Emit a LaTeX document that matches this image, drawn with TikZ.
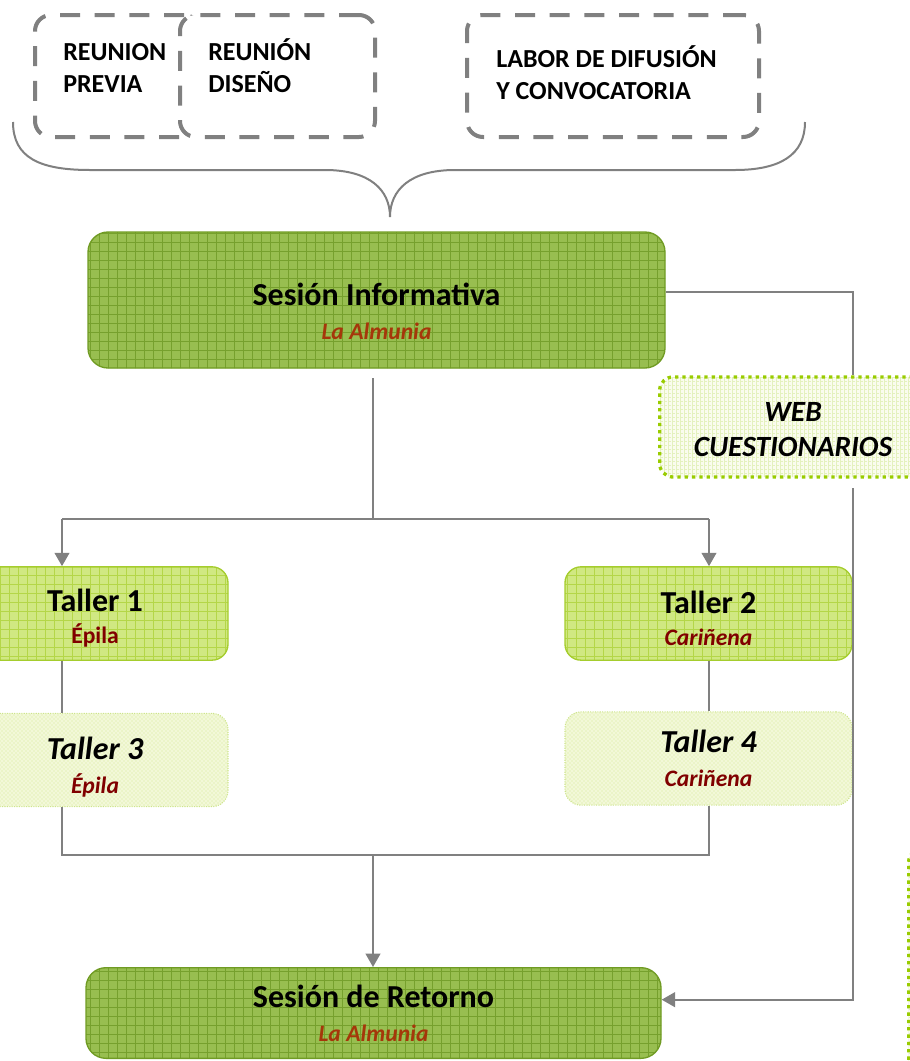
\documentclass[tikz,border=0pt]{standalone}
\usepackage{fontspec}
\setmainfont{Carlito}
\usetikzlibrary{arrows.meta,positioning,patterns}

\definecolor{linegray}{RGB}{128,128,128}
\definecolor{sesfill}{RGB}{152,190,80}
\definecolor{sesgrid}{RGB}{118,160,45}
\definecolor{sesborder}{RGB}{112,155,35}
\definecolor{talfill}{RGB}{208,232,130}
\definecolor{talgrid}{RGB}{180,214,72}
\definecolor{talborder}{RGB}{165,205,45}
\definecolor{palefill}{RGB}{242,248,216}
\definecolor{palegrid}{RGB}{214,234,150}
\definecolor{webgreen}{RGB}{153,204,0}
\definecolor{webfill}{RGB}{250,252,238}
\definecolor{webgrid}{RGB}{228,241,190}
\definecolor{almunia}{RGB}{165,55,10}
\definecolor{villa}{RGB}{128,0,0}

\pgfdeclarepatternformonly{mesh}{\pgfqpoint{-1pt}{-1pt}}{\pgfqpoint{7.75pt}{7.75pt}}{\pgfqpoint{6.75pt}{6.75pt}}{%
  \pgfsetlinewidth{0.7pt}%
  \pgfpathmoveto{\pgfqpoint{0pt}{0pt}}\pgfpathlineto{\pgfqpoint{0pt}{6.85pt}}%
  \pgfpathmoveto{\pgfqpoint{0pt}{0pt}}\pgfpathlineto{\pgfqpoint{6.85pt}{0pt}}%
  \pgfusepath{stroke}}

\newcommand{\placefont}{\fontsize{17.7}{23}\selectfont}
\newcommand{\headroom}[1]{\rule{0pt}{#1}}

\begin{document}
\begin{tikzpicture}[
    x=0.75pt, y=-0.75pt,
    link/.style={draw=linegray, line width=1.5pt},
    arrow/.style={link, -{Triangle[width=11pt, length=10pt]}},
    plan/.style={rectangle, draw=linegray, line width=3pt, dash pattern=on 15pt off 11pt, rounded corners=12pt, fill=white, minimum height=91.5pt},
    plantext/.style={anchor=base west, align=left, inner sep=0pt, font=\fontsize{19.5}{24}\selectfont\bfseries},
    sesion/.style={rectangle, rounded corners=15pt, draw=sesborder, line width=1pt, preaction={fill=sesfill}, pattern=mesh, pattern color=sesgrid, align=center, font=\fontsize{24}{25.5}\selectfont\bfseries},
    taller/.style={rectangle, rounded corners=12pt, draw=talborder, line width=1pt, preaction={fill=talfill}, pattern=mesh, pattern color=talgrid, minimum height=70pt, align=center, font=\fontsize{24}{24.5}\selectfont\bfseries},
    tallerpale/.style={rectangle, rounded corners=12pt, draw=talborder!55, line width=0.8pt, densely dotted, preaction={fill=palefill}, pattern=crosshatch dots, pattern color=palegrid, minimum height=70pt, align=center, font=\fontsize{24}{25.5}\selectfont\bfseries\itshape},
    webbox/.style={rectangle, rounded corners=10pt, draw=webgreen, line width=2.5pt, dash pattern=on 2.5pt off 3pt, preaction={fill=webfill}, pattern=grid, pattern color=webgrid, minimum width=200pt, minimum height=75pt, align=center, font=\fontsize{22}{26}\selectfont\bfseries\itshape},
    brace/.style={draw=linegray, line width=1.5pt}
]
\useasboundingbox (0,0) rectangle (910,1061);
\clip (0,0) rectangle (910,1061);

% Preparation meetings
\node[plan, minimum width=123.75pt] (previa) at (117.5,76) {};
\node[plan, minimum width=146.25pt] (diseno) at (277.5,76) {};
\node[plan, minimum width=219pt] (difusion) at (613,76) {};
\node[plantext] (previa-txt) at (63,92) {REUNION\\PREVIA};
\node[plantext] (diseno-txt) at (208,92) {REUNIÓN\\DISEÑO};
\node[plantext] (difusion-txt) at (496,99) {LABOR DE DIFUSIÓN\\Y CONVOCATORIA};

% Brace grouping the meetings
\draw[brace] (13,122) .. controls (13,158) and (40,170) .. (90,170) -- (325,170)
    .. controls (370,170) and (390,190) .. (390,217)
    .. controls (390,190) and (410,170) .. (455,170) -- (735,170)
    .. controls (780,170) and (805,155) .. (805,122);

% Sessions
\node[sesion, minimum width=432.75pt, minimum height=102pt] (info) at (376.5,300)
    {\headroom{34pt}Sesión Informativa\\{\placefont\color{almunia}\itshape La Almunia}};
\node[sesion, minimum width=431.25pt, minimum height=68pt] (retorno) at (373.5,1013)
    {Sesión de Retorno\\{\placefont\color{almunia}\itshape La Almunia}};

% Workshops
\node[taller, minimum width=199.5pt] (taller1) at (95,613.5)
    {\headroom{24pt}Taller 1\\{\placefont\color{villa}Épila}};
\node[taller, minimum width=215.25pt] (taller2) at (708.5,613.5)
    {\headroom{24pt}Taller 2\\{\placefont\color{villa}\itshape Cariñena}};
\node[tallerpale, minimum width=199.5pt] (taller3) at (95,760)
    {\headroom{27pt}Taller 3\\{\placefont\color{villa}Épila}};
\node[tallerpale, minimum width=215.25pt] (taller4) at (708.5,758.5)
    {Taller 4\\{\placefont\color{villa}Cariñena}};

% Web
\node[webbox] (web) at (793,427) {\headroom{18pt}WEB\\CUESTIONARIOS};
\node[webbox, anchor=north west, minimum width=150pt, minimum height=200pt] (extra) at (907,847) {};

% Connectors
\coordinate (fork) at (373,519);
\coordinate (forkL) at (62,519);
\coordinate (forkR) at (709,519);
\coordinate (join) at (373,855);
\coordinate (side) at (853,292);

\draw[link, shorten <=7pt] (info.south -| fork) -- (fork);
\draw[link] (forkL) -- (forkR);
\draw[arrow] (forkL) -- (forkL |- taller1.north);
\draw[arrow] (forkR) -- (forkR |- taller2.north);
\draw[link] (taller1.south -| forkL) -- (taller3.north -| forkL);
\draw[link] (taller2.south -| forkR) -- (taller4.north -| forkR);
\draw[link] (taller3.south -| forkL) |- (join) -| (taller4.south -| forkR);
\draw[arrow] (join) -- (retorno.north -| join);

\draw[link] (info.east |- side) -| (web.north -| side);
\draw[arrow, shorten <=7pt] (web.south -| side) |- ([yshift=10pt]retorno.east);

\end{tikzpicture}
\end{document}
